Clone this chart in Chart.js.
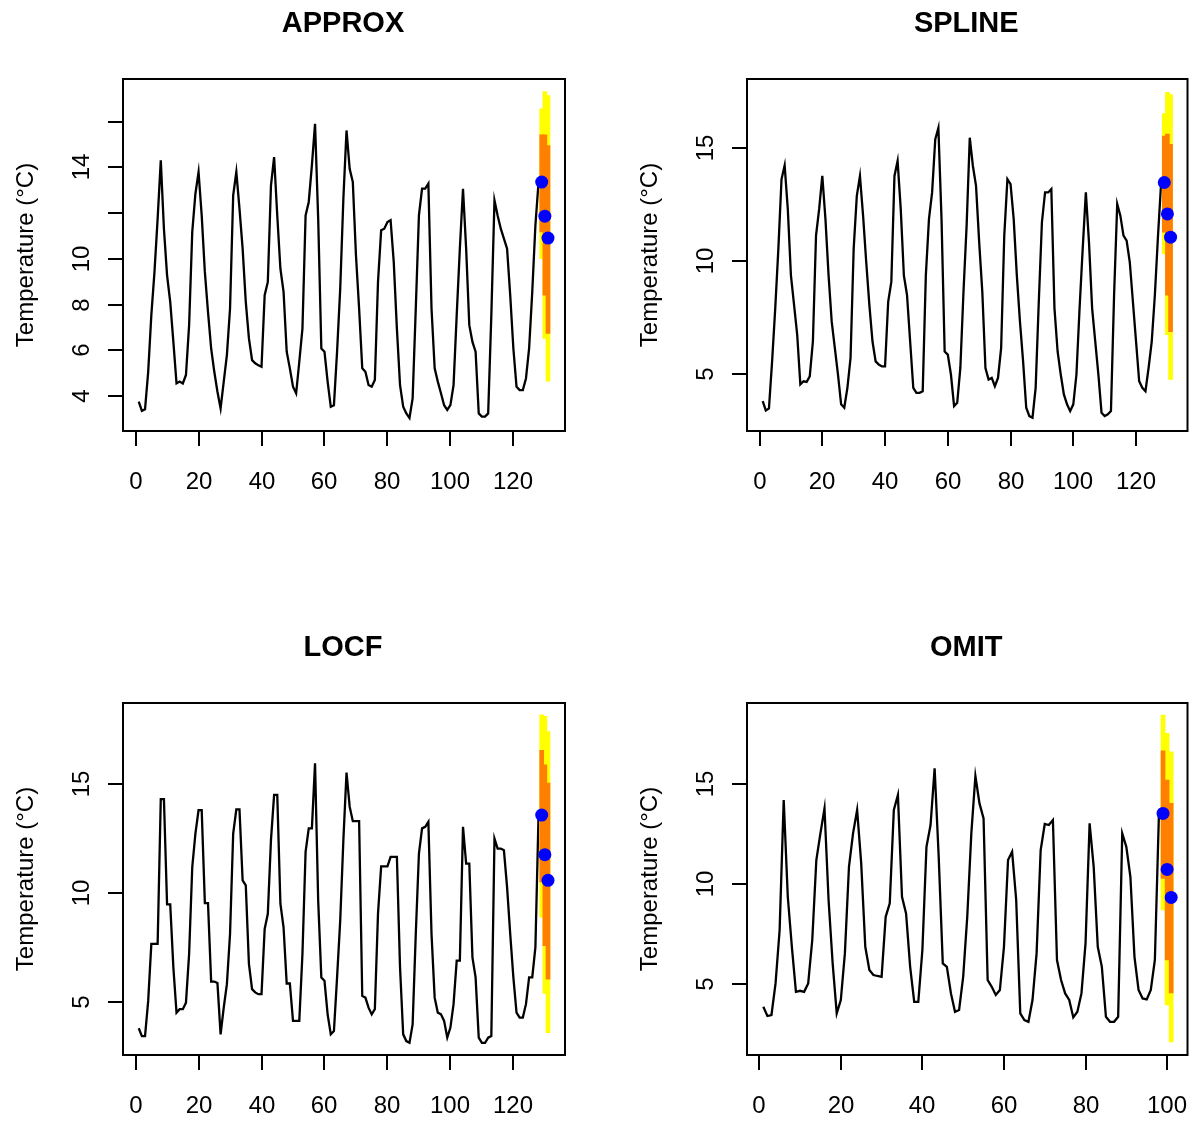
<!DOCTYPE html>
<html>
<head>
<meta charset="utf-8">
<script src="https://cdn.jsdelivr.net/npm/chart.js@4/dist/chart.umd.min.js"></script>
<style>
  html, body { margin: 0; padding: 0; background: #ffffff; }
  #wrap { position: relative; width: 1194px; height: 1122px; background: #ffffff; }
  canvas { position: absolute; }
</style>
</head>
<body>
<div id="wrap">
  <canvas id="c1" width="597" height="561" style="left:0px;top:0px"></canvas>
  <canvas id="c2" width="597" height="561" style="left:597px;top:0px"></canvas>
  <canvas id="c3" width="597" height="561" style="left:0px;top:561px"></canvas>
  <canvas id="c4" width="597" height="561" style="left:597px;top:561px"></canvas>
</div>
<script>
// ---------------- DATA ----------------
const panelTitles = ["APPROX", "SPLINE", "LOCF", "OMIT"];
const yAxisTitle = "Temperature (°C)";

const approxObs = [3.75,3.35,3.42,5.06,7.54,9.43,11.76,14.31,11.32,9.28,8.12,6.37,4.55,4.63,4.55,4.92,7.1,11.18,12.85,13.8,
  11.9,9.43,7.68,6.08,5.06,4.19,3.46,4.63,5.79,7.83,12.78,13.8,12.2,10.45,8.12,6.52,5.57,5.43,5.35,5.28,
  8.41,8.99,13.21,14.45,11.9,9.57,8.56,5.94,5.21,4.41,4.12,5.5,6.95,11.9,12.49,14.09,15.91,11.76,6.08,5.94,
  4.63,3.53,3.6,5.94,8.7,12.63,15.62,13.94,13.36,10.16,7.83,5.21,5.06,4.48,4.41,4.7,8.99,11.25,11.32,11.61,
  11.69,9.87,6.95,4.48,3.53,3.24,3.04,3.9,7.83,11.9,13.07,13.07,13.29,7.83,5.21,4.63,4.12,3.6,3.39,3.6,
  4.48,7.54,10.45,13.07,10.45,7.1,6.37,5.94,3.24,3.1,3.1,3.24,7.54,12.56,11.9,11.32,10.89,10.45,8.41,6.08,
  4.41,4.26,4.26,4.77,6.08,8.56,11.47,13.36];
const approxMean = [13.36, 11.87, 10.91];
const approxLo80 = [11.18, 8.41, 6.74];
const approxHi80 = [15.43, 15.43, 14.96];
const approxLo95 = [10.01, 6.52, 4.65];
const approxHi95 = [16.56, 17.32, 17.14];

const splineObs = [3.78,3.37,3.46,5.54,7.89,10.53,13.6,14.22,12.29,9.35,8.04,6.72,4.52,4.66,4.63,4.88,6.42,11.11,12.29,13.75,
  11.85,9.35,7.3,6.13,4.96,3.64,3.49,4.37,5.69,10.53,12.87,13.75,11.99,9.94,8.04,6.42,5.54,5.4,5.32,5.32,
  8.18,9.06,13.75,14.41,12.29,9.35,8.48,6.42,4.37,4.15,4.15,4.22,9.35,11.85,13.02,15.37,15.88,11.85,5.98,5.84,
  4.96,3.56,3.71,5.25,8.62,11.55,15.44,14.19,13.31,10.82,8.62,5.25,4.74,4.81,4.44,4.81,6.13,11.11,13.61,13.39,
  11.85,9.35,7.3,5.54,3.49,3.12,3.05,4.37,8.18,11.7,13.02,13.02,13.17,7.89,5.98,4.96,4.08,3.64,3.34,3.64,
  4.96,7.89,10.53,13.02,10.82,7.89,6.42,4.96,3.27,3.12,3.2,3.34,8.48,12.51,11.99,11.11,10.89,9.94,8.18,6.42,
  4.66,4.37,4.22,5.25,6.42,8.48,11.11,13.46];
const splineMean = [13.46, 12.07, 11.04];
const splineLo80 = [11.26, 8.47, 6.86];
const splineHi80 = [15.51, 15.6, 15.15];
const splineLo95 = [10.31, 6.72, 4.74];
const splineHi95 = [16.51, 17.45, 17.35];

const locfObs = [3.77,3.41,3.41,5.03,7.65,7.65,7.65,14.32,14.32,9.47,9.47,6.57,4.49,4.65,4.65,4.95,7.19,11.19,12.73,13.81,
  13.81,9.53,9.53,5.92,5.92,5.85,3.49,4.72,5.8,8.11,12.73,13.84,13.84,10.58,10.35,6.73,5.57,5.42,5.34,5.34,
  8.34,9.04,12.43,14.51,14.51,9.5,8.42,5.83,5.83,4.11,4.11,4.11,7.19,11.89,12.97,12.97,15.97,9.65,6.11,5.96,
  4.41,3.49,3.64,6.11,8.73,12.43,15.54,13.97,13.3,13.3,13.3,5.26,5.18,4.72,4.41,4.65,9.04,11.22,11.22,11.22,
  11.66,11.66,11.66,6.57,3.49,3.18,3.1,3.95,8.11,11.81,12.97,13.04,13.27,8.11,5.18,4.49,4.41,4.11,3.34,3.8,
  4.88,6.88,6.88,13.04,11.35,11.35,7.03,6.11,3.34,3.1,3.1,3.34,3.41,12.5,12.04,12.04,11.96,10.27,8.11,6.11,
  4.49,4.26,4.26,4.88,6.11,6.11,7.5,13.58];
const locfMean = [13.58, 11.76, 10.58];
const locfLo80 = [10.5, 7.57, 6.03];
const locfHi80 = [16.56, 15.89, 15.05];
const locfLo95 = [8.88, 5.37, 3.57];
const locfHi95 = [18.2, 18.13, 17.43];

const omitObs = [3.88,3.42,3.47,5.05,7.72,14.22,9.38,6.88,4.63,4.68,4.63,5.05,7.22,11.22,12.55,13.8,9.22,6.05,3.55,4.22,
  6.55,10.88,12.55,13.72,11.05,6.88,5.72,5.47,5.42,5.38,8.38,9.05,13.72,14.47,9.38,8.55,5.88,4.13,4.13,6.72,
  11.88,12.97,15.8,11.38,6.05,5.88,4.55,3.63,3.72,5.38,8.38,12.55,15.42,14.05,13.3,5.22,4.88,4.47,4.72,6.88,
  11.22,11.63,9.22,3.55,3.22,3.13,4.22,6.55,11.72,13.02,12.97,13.22,6.22,5.22,4.55,4.22,3.35,3.63,4.55,7.05,
  13.05,10.88,6.88,5.88,3.38,3.13,3.13,3.38,12.55,11.88,10.38,6.38,4.72,4.3,4.25,4.72,6.22,13.55];
const omitMean = [13.55, 10.75, 9.35];
const omitLo80 = [10.3, 6.22, 4.58];
const omitHi80 = [16.68, 15.22, 14.05];
const omitLo95 = [8.72, 3.97, 2.13];
const omitHi95 = [18.47, 17.55, 16.63];

const fcTimesLong = [129, 130, 131];
const fcTimesShort = [99, 100, 101];

const xTicksLong = [0, 20, 40, 60, 80, 100, 120];
const xTicksShort = [0, 20, 40, 60, 80, 100];

const approxYTicks = [4, 6, 8, 10, 12, 14, 16];
const approxYLabels = ["4", "6", "8", "10", "", "14", ""];
const otherYTicks = [5, 10, 15];
const otherYLabels = ["5", "10", "15"];

const xRangeLong = [-4.0, 136.4];
const xRangeShort = [-3.0, 105.0];
const approxYRange = [2.47, 17.87];
const splineYRange = [2.46, 18.04];
const locfYRange = [2.54, 18.74];
const omitYRange = [1.47, 19.07];

// ---------------- DRAWING ----------------
const FONT = '"Liberation Sans", Arial, Helvetica, sans-serif';

const rAxes = {
  id: 'rAxes',
  afterDraw(chart, args, o) {
    const ctx = chart.ctx, a = chart.chartArea;
    const xs = chart.scales.x, ys = chart.scales.y;
    ctx.save();
    ctx.strokeStyle = '#000';
    ctx.fillStyle = '#000';
    ctx.lineWidth = 2;
    ctx.lineCap = 'butt';
    ctx.strokeRect(a.left, a.top, a.right - a.left, a.bottom - a.top);
    // x axis
    ctx.font = '24px ' + FONT;
    ctx.textAlign = 'center';
    ctx.textBaseline = 'middle';
    o.xTicks.forEach(v => {
      const px = Math.round(xs.getPixelForValue(v));
      ctx.beginPath(); ctx.moveTo(px, a.bottom); ctx.lineTo(px, a.bottom + 15); ctx.stroke();
      ctx.fillText(String(v), px, a.bottom + 51);
    });
    // y axis
    o.yTicks.forEach((v, i) => {
      const py = Math.round(ys.getPixelForValue(v));
      ctx.beginPath(); ctx.moveTo(a.left - 15, py); ctx.lineTo(a.left, py); ctx.stroke();
      const lab = o.yLabels[i];
      if (lab) {
        ctx.save();
        ctx.translate(a.left - 41, py);
        ctx.rotate(-Math.PI / 2);
        ctx.fillText(lab, 0, 0);
        ctx.restore();
      }
    });
    // y title
    ctx.save();
    ctx.translate(a.left - 97, (a.top + a.bottom) / 2);
    ctx.rotate(-Math.PI / 2);
    ctx.fillText(o.yTitle, 0, 0);
    ctx.restore();
    // main title
    ctx.font = 'bold 29px ' + FONT;
    ctx.textBaseline = 'alphabetic';
    ctx.fillText(o.title, (a.left + a.right) / 2 - 1, a.top - 47);
    ctx.restore();
  }
};

function makePanel(id, cfg) {
  const line = cfg.obs.map((v, i) => ({ x: i + 1, y: v }));
  const y95 = cfg.fx.map((t, i) => ({ x: t, y: [cfg.lo95[i], cfg.hi95[i]] }));
  const y80 = cfg.fx.map((t, i) => ({ x: t, y: [cfg.lo80[i], cfg.hi80[i]] }));
  const pts = cfg.fx.map((t, i) => ({ x: t, y: cfg.mean[i] }));
  new Chart(document.getElementById(id), {
    type: 'line',
    data: {
      datasets: [
        { type: 'line', data: line, borderColor: '#000000', borderWidth: 2.3, pointRadius: 0, tension: 0, fill: false, order: 3 },
        { type: 'bar', data: y95, backgroundColor: '#FFFF00', borderWidth: 0, barThickness: 4, grouped: false, order: 2 },
        { type: 'bar', data: y80, backgroundColor: '#FF8000', borderWidth: 0, barThickness: 4, grouped: false, order: 1 },
        { type: 'scatter', data: pts, backgroundColor: '#0000FF', borderColor: '#0000FF', borderWidth: 0, pointRadius: 6.5, showLine: false, order: 0 }
      ]
    },
    options: {
      responsive: false,
      animation: false,
      events: [],
      layout: { padding: cfg.pad },
      plugins: {
        legend: { display: false },
        tooltip: { enabled: false },
        title: { display: false },
        rAxes: { xTicks: cfg.xTicks, yTicks: cfg.yTicks, yLabels: cfg.yLabels, yTitle: yAxisTitle, title: cfg.title }
      },
      scales: {
        x: { type: 'linear', min: cfg.xRange[0], max: cfg.xRange[1], offset: false, display: false },
        y: { type: 'linear', min: cfg.yRange[0], max: cfg.yRange[1], display: false }
      }
    },
    plugins: [rAxes]
  });
}

const padTL = { left: 123, right: 32, top: 79, bottom: 130 };
const padTR = { left: 150, right: 5, top: 79, bottom: 130 };
const padBL = { left: 123, right: 32, top: 142, bottom: 67 };
const padBR = { left: 150, right: 5, top: 142, bottom: 67 };

makePanel('c1', { title: panelTitles[0], obs: approxObs, fx: fcTimesLong, mean: approxMean, lo80: approxLo80, hi80: approxHi80, lo95: approxLo95, hi95: approxHi95,
  xTicks: xTicksLong, yTicks: approxYTicks, yLabels: approxYLabels, xRange: xRangeLong, yRange: approxYRange, pad: padTL });
makePanel('c2', { title: panelTitles[1], obs: splineObs, fx: fcTimesLong, mean: splineMean, lo80: splineLo80, hi80: splineHi80, lo95: splineLo95, hi95: splineHi95,
  xTicks: xTicksLong, yTicks: otherYTicks, yLabels: otherYLabels, xRange: xRangeLong, yRange: splineYRange, pad: padTR });
makePanel('c3', { title: panelTitles[2], obs: locfObs, fx: fcTimesLong, mean: locfMean, lo80: locfLo80, hi80: locfHi80, lo95: locfLo95, hi95: locfHi95,
  xTicks: xTicksLong, yTicks: otherYTicks, yLabels: otherYLabels, xRange: xRangeLong, yRange: locfYRange, pad: padBL });
makePanel('c4', { title: panelTitles[3], obs: omitObs, fx: fcTimesShort, mean: omitMean, lo80: omitLo80, hi80: omitHi80, lo95: omitLo95, hi95: omitHi95,
  xTicks: xTicksShort, yTicks: otherYTicks, yLabels: otherYLabels, xRange: xRangeShort, yRange: omitYRange, pad: padBR });
</script>
</body>
</html>
